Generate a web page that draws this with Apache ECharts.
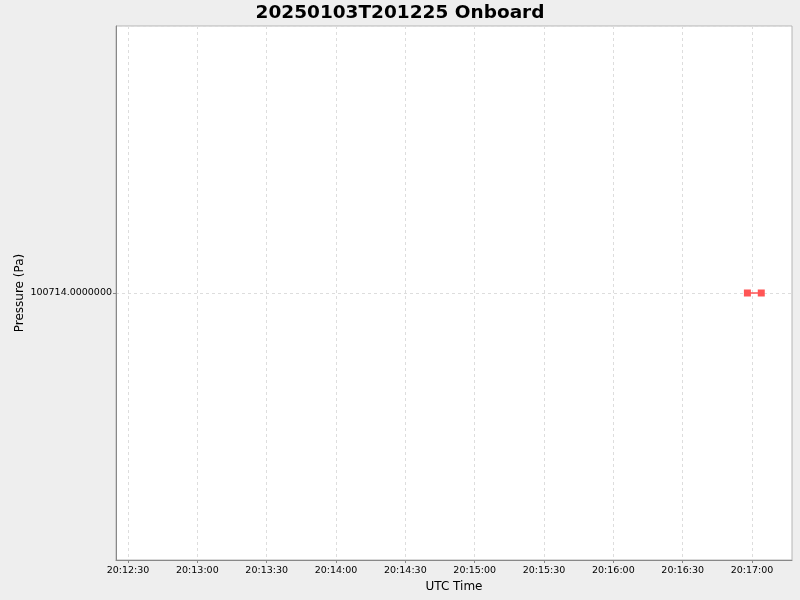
<!DOCTYPE html>
<html>
<head>
<meta charset="utf-8">
<title>20250103T201225 Onboard</title>
<script src="https://cdn.jsdelivr.net/npm/echarts@6/dist/echarts.min.js"></script>
<style>
  html, body { margin: 0; padding: 0; background: #eeeeee; }
  #chart { width: 800px; height: 600px; }
</style>
</head>
<body>
<div id="chart"></div>
<script>
    // pressure samples (UTC, 2025-01-03)
    var times = ['20:16:58', '20:17:04'];
    var pressure = [100714, 100714];

    // x tick labels
    var tickLabels = ['20:12:30', '20:13:00', '20:13:30', '20:14:00', '20:14:30',
        '20:15:00', '20:15:30', '20:16:00', '20:16:30', '20:17:00'];

    var day = '2025-01-03T';
    function ts(t) { return Date.parse(day + t + 'Z'); }

    var xMin = ts('20:12:24.8');
    var xMax = ts('20:17:17.3');
    var tickValues = tickLabels.map(ts);

    var points = times.map(function (t, i) {
        return [ts(t), pressure[i]];
    });

    function pad(n) { return (n < 10 ? '0' : '') + n; }

    var myChart = echarts.init(document.getElementById('chart'));
    myChart.setOption({
        backgroundColor: '#eeeeee',
        animation: false,
        title: {
            text: '20250103T201225 Onboard',
            left: 'center',
            top: -1,
            textStyle: { fontFamily: 'DejaVu Sans', fontWeight: 'bold', fontSize: 18.5, color: '#000' }
        },
        grid: {
            left: 116, right: 8, top: 26, bottom: 40,
            outerBoundsMode: 'none',
            containLabel: false,
            show: true, backgroundColor: '#ffffff', borderColor: '#b4b4b4', borderWidth: 1
        },
        xAxis: {
            type: 'value',
            min: xMin,
            max: xMax,
            scale: true,
            name: 'UTC Time',
            nameLocation: 'middle',
            nameGap: 21,
            nameMoveOverlap: false,
            nameTextStyle: { fontFamily: 'DejaVu Sans', fontSize: 12, color: '#000' },
            axisLine: { lineStyle: { color: '#888888' } },
            axisTick: { show: true, length: 3, customValues: tickValues, lineStyle: { color: '#888888' } },
            axisLabel: {
                customValues: tickValues,
                fontFamily: 'DejaVu Sans',
                fontSize: 9.5,
                color: '#000',
                margin: 6,
                formatter: function (v) {
                    var d = new Date(v);
                    return pad(d.getUTCHours()) + ':' + pad(d.getUTCMinutes()) + ':' + pad(d.getUTCSeconds());
                }
            },
            splitLine: { show: true, lineStyle: { color: '#dddddd', type: [3, 3] } }
        },
        yAxis: {
            type: 'value',
            min: 100713,
            max: 100715,
            interval: 1,
            name: 'Pressure (Pa)',
            nameLocation: 'middle',
            nameRotate: 90,
            nameGap: 90,
            nameMoveOverlap: false,
            nameTextStyle: { fontFamily: 'DejaVu Sans', fontSize: 12, color: '#000' },
            axisLine: { show: true, lineStyle: { color: '#888888' } },
            axisTick: { show: true, length: 3, lineStyle: { color: '#888888' } },
            axisLabel: {
                showMinLabel: false,
                showMaxLabel: false,
                fontFamily: 'DejaVu Sans',
                fontSize: 9.5,
                color: '#000',
                margin: 4,
                formatter: function (v) { return v.toFixed(7); }
            },
            splitLine: { show: true, lineStyle: { color: '#dddddd', type: [3, 3] } }
        },
        series: [{
            type: 'line',
            data: points,
            symbol: 'rect',
            symbolSize: 7,
            itemStyle: { color: '#ff5555' },
            lineStyle: { color: '#ff5555', width: 1.5 }
        }]
    });
</script>
</body>
</html>
